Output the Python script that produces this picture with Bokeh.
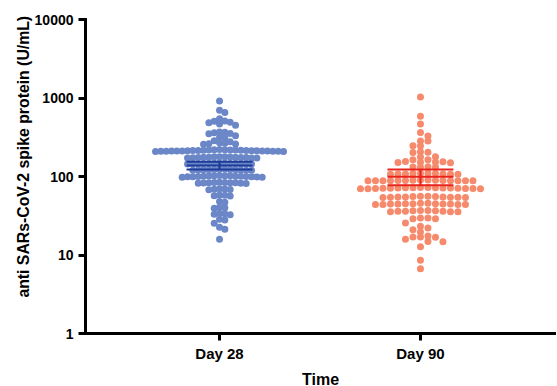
import numpy as np
from bokeh.plotting import figure
from bokeh.models import Range1d, FixedTicker, NumeralTickFormatter, ColumnDataSource
from bokeh.embed import file_html
from bokeh.resources import INLINE

categories = ["Day 28", "Day 90"]

day28 = [915, 700, 655, 545, 510, 505, 490, 485, 465, 450, 368, 365, 360, 352, 350,
         330, 315, 312, 285, 277,
         270, 266, 262, 259, 257,
         220, 219.5, 219, 218, 217.5, 217, 216, 215.5, 215, 214.5, 214, 213, 213,
         212.5, 212, 211.5, 211, 211, 210.5, 210, 210, 209.5, 209, 208.5, 208,
         179, 178.5, 178, 177, 176.5, 176, 175.5, 175, 174.5, 174, 173, 172.5, 172, 171.5,
         147.5, 147, 147, 146.5, 146.5, 146, 146, 145.5, 145.5, 145, 145, 144.5, 144,
         124, 123.5, 123, 122.5, 122, 122, 121.5, 121, 121, 120.5, 120, 120,
         103, 102.5, 102, 102, 101.5, 101, 101, 100.5, 100, 100, 99.5, 99, 99, 98.5, 98, 98,
         84.5, 84, 84, 83.5, 83, 83, 82.5, 82, 82, 81.5,
         70, 69.5, 69, 68.5, 68,
         58, 57.5, 57, 56.5,
         48, 47,
         40.5, 40, 39.5,
         34, 33.5, 33, 32.5,
         28.5, 28,
         25.4, 22.6, 21.3, 15.9]

day90 = [1030, 586, 468, 364, 329, 284, 283, 246, 245, 206, 204, 202, 178, 177,
         164, 163, 155, 154, 153, 152, 151, 150, 133, 132, 132, 131,
         110, 110, 109, 109, 108, 108, 108, 107, 107, 107,
         90, 90, 89.5, 89.5, 89, 89, 89, 88.5, 88.5, 88.5, 88, 88, 88, 88, 88,
         72.5, 72.5, 72, 72, 72, 71.5, 71.5, 71.5, 71, 71, 71, 70.5, 70.5, 70.5, 70, 70, 70,
         56, 56, 55.5, 55.5, 55, 55, 55, 54.5, 54.5, 54.5, 54, 54,
         45.5, 45.5, 45, 45, 45, 44.5, 44.5, 44.5, 44.5, 44, 44, 44, 44,
         37, 37, 36.5, 36.5, 36, 36, 36, 35.5, 35.5, 35.5,
         29.5, 29.5, 29, 29,
         25.6, 23.2, 22.0, 21.0, 19.7, 17.4, 17.0, 16.9, 16.8, 15.9, 14.9, 14.8, 12.7, 8.6, 6.7]

center_value = [138, 99]
ci_low = [123, 77.5]
ci_high = [154, 123]
y_ticks = [1, 10, 100, 1000, 10000]

dot_colors = ["#6b87c8", "#f68a6c"]
line_colors = ["#1c3c98", "#e8241d"]

FRAME_W, FRAME_H = 470, 314
X0, X1 = 0.333, 2.672
Y0, Y1 = 1, 10000
PX_DEC = FRAME_H / np.log10(Y1 / Y0)
DX = (X1 - X0) / FRAME_W


def swarm_offsets(vals, h=5.0, pitch_max=7.5, width_max=128):
    ypx = np.log10(np.asarray(vals, float)) * PX_DEC
    order = np.argsort(-ypx, kind="stable")
    stacks = {}
    slots = np.zeros(len(vals))
    cand = [0] + [s for j in range(1, 80) for s in (j, -j)]
    for i in order:
        y = ypx[i]
        for s in cand:
            if all(abs(y - yy) >= h for yy in stacks.get(s, ())):
                break
        stacks.setdefault(s, []).append(y)
        slots[i] = s
    span = slots.max() - slots.min()
    pitch = pitch_max if span == 0 else min(pitch_max, width_max / span)
    return (slots - (slots.max() + slots.min()) / 2) * pitch * DX


p = figure(frame_width=FRAME_W, frame_height=FRAME_H,
           x_range=Range1d(X0, X1), y_range=Range1d(Y0, Y1),
           y_axis_type="log", output_backend="svg", toolbar_location=None,
           min_border_left=85, min_border_right=1, min_border_top=19,
           min_border_bottom=52)
p.outline_line_color = None
p.grid.visible = False
p.background_fill_color = "white"

cat_x = [i + 1 for i in range(len(categories))]
for i, vals in enumerate([day28, day90]):
    xs = cat_x[i] + swarm_offsets(vals)
    src = ColumnDataSource(dict(x=xs, y=vals))
    p.scatter("x", "y", source=src, size=7, fill_color=dot_colors[i],
              line_color=None)

hw = 33 * DX
x0s = [c - hw for c in cat_x]
x1s = [c + hw for c in cat_x]
for arr in (ci_high, center_value, ci_low):
    p.segment(x0=x0s, x1=x1s, y0=arr, y1=arr, line_color=line_colors,
              line_width=2)
p.segment(x0=cat_x, x1=cat_x, y0=ci_low, y1=ci_high, line_color=line_colors,
          line_width=2)

font = "Liberation Sans"
for ax in (p.xaxis[0], p.yaxis[0]):
    ax.axis_line_width = 3
    ax.axis_line_color = "black"
    ax.axis_line_cap = "square"
    ax.major_tick_line_width = 3
    ax.major_tick_line_color = "black"
    ax.major_tick_out = 7
    ax.major_tick_in = 0
    ax.minor_tick_line_color = None
    ax.major_label_text_font = font
    ax.major_label_text_font_style = "bold"
    ax.major_label_text_color = "black"
    ax.axis_label_text_font = font
    ax.axis_label_text_font_style = "bold"
    ax.axis_label_text_color = "black"

p.xaxis.ticker = FixedTicker(ticks=cat_x)
p.xaxis.major_label_overrides = {cat_x[i]: c for i, c in enumerate(categories)}
p.xaxis.major_label_text_font_size = "15px"
p.xaxis.major_label_standoff = 4
p.xaxis.axis_label = "Time"
p.xaxis.axis_label_text_font_size = "16px"
p.xaxis.axis_label_standoff = 6

p.yaxis.ticker = FixedTicker(ticks=y_ticks)
p.yaxis.formatter = NumeralTickFormatter(format="0")
p.yaxis.major_label_text_font_size = "14px"
p.yaxis.major_label_standoff = 5
p.yaxis.axis_label = "\u00a0" * 9 + "anti SARs-CoV-2 spike protein (U/mL)"
p.yaxis.axis_label_text_font_size = "15.8px"
p.yaxis.axis_label_standoff = 0

open("out.html", "w").write(file_html(p, INLINE))
